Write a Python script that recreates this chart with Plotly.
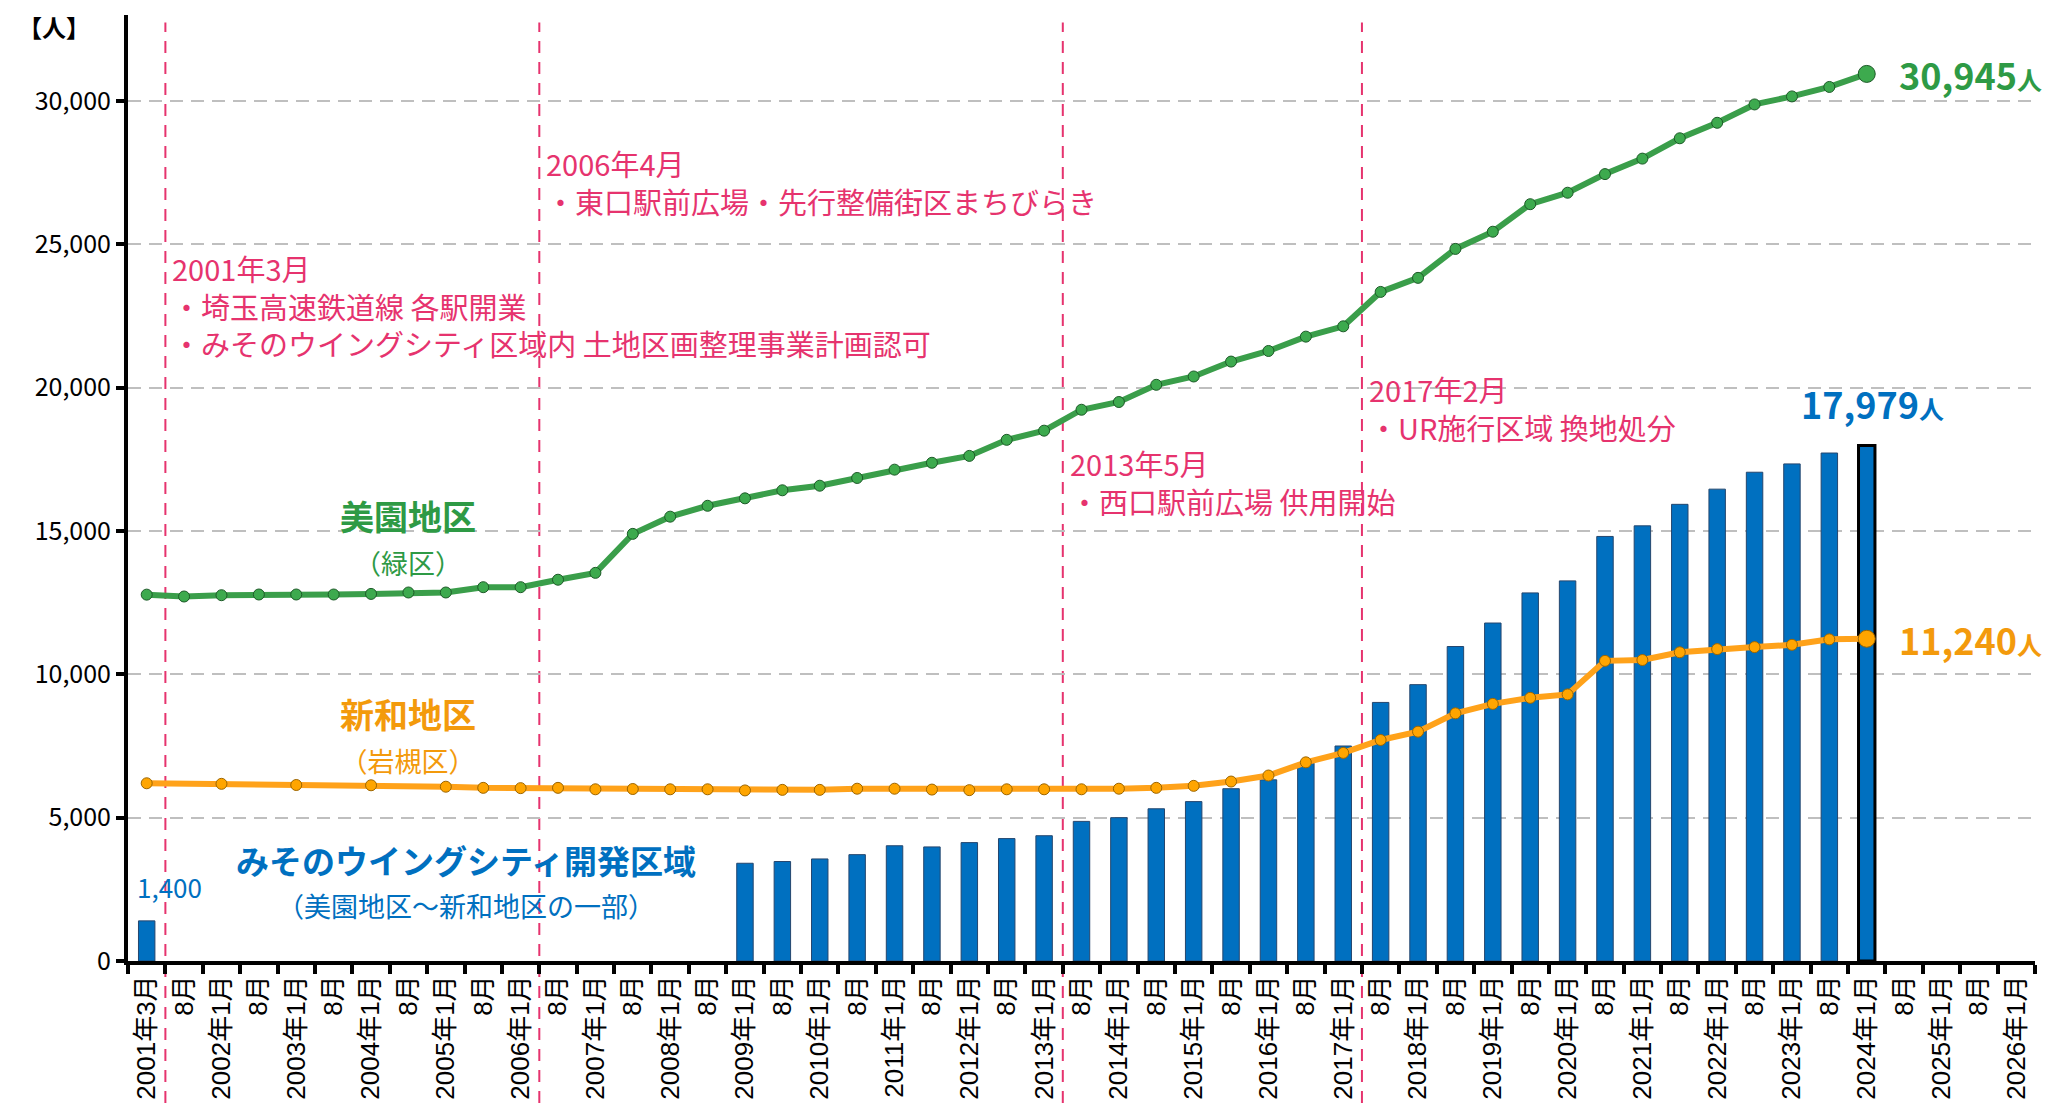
import plotly.graph_objects as go

# ---------------- data ----------------
periods = [
    "2001年3月", "2001年8月", "2002年1月", "2002年8月", "2003年1月", "2003年8月",
    "2004年1月", "2004年8月", "2005年1月", "2005年8月", "2006年1月", "2006年8月",
    "2007年1月", "2007年8月", "2008年1月", "2008年8月", "2009年1月", "2009年8月",
    "2010年1月", "2010年8月", "2011年1月", "2011年8月", "2012年1月", "2012年8月",
    "2013年1月", "2013年8月", "2014年1月", "2014年8月", "2015年1月", "2015年8月",
    "2016年1月", "2016年8月", "2017年1月", "2017年8月", "2018年1月", "2018年8月",
    "2019年1月", "2019年8月", "2020年1月", "2020年8月", "2021年1月", "2021年8月",
    "2022年1月", "2022年8月", "2023年1月", "2023年8月", "2024年1月", "2024年8月",
    "2025年1月", "2025年8月", "2026年1月",
]
tick_labels = [
    "2001年3月", "8月", "2002年1月", "8月", "2003年1月", "8月",
    "2004年1月", "8月", "2005年1月", "8月", "2006年1月", "8月",
    "2007年1月", "8月", "2008年1月", "8月", "2009年1月", "8月",
    "2010年1月", "8月", "2011年1月", "8月", "2012年1月", "8月",
    "2013年1月", "8月", "2014年1月", "8月", "2015年1月", "8月",
    "2016年1月", "8月", "2017年1月", "8月", "2018年1月", "8月",
    "2019年1月", "8月", "2020年1月", "8月", "2021年1月", "8月",
    "2022年1月", "8月", "2023年1月", "8月", "2024年1月", "8月",
    "2025年1月", "8月", "2026年1月",
]

# 美園地区（緑区） population, 2001年3月 .. 2024年1月
misono = [
    12780, 12715, 12760, 12785, 12785, 12785, 12805, 12855, 12855, 13040,
    13040, 13300, 13540, 14900, 15500, 15880, 16140, 16420, 16580, 16850,
    17140, 17380, 17620, 18180, 18500, 19230, 19500, 20100, 20390, 20910,
    21280, 21780, 22140, 23340, 23830, 24840, 25440, 26400, 26800, 27450,
    27990, 28700, 29240, 29880, 30160, 30490, 30945,
]
# 新和地区（岩槻区） population (None = no survey)
shinwa = [
    6200, None, 6180, None, 6140, None, 6130, None, 6080, 6040,
    6030, 6040, 5990, 6000, 5990, 5990, 5950, 5970, 5970, 6010,
    6010, 5980, 5960, 5990, 5990, 5990, 6010, 6040, 6110, 6260,
    6470, 6930, 7260, 7710, 8000, 8640, 8970, 9180, 9300, 10470,
    10500, 10770, 10880, 10950, 11030, 11220, 11240,
]
# みそのウイングシティ開発区域 population (bars)
wing_city = [
    1400, None, None, None, None, None, None, None, None, None,
    None, None, None, None, None, None, 3410, 3470, 3560, 3710,
    4020, 3980, 4130, 4270, 4370, 4870, 5000, 5310, 5560, 6010,
    6320, 6900, 7500, 9020, 9640, 10970, 11790, 12840, 13260, 14810,
    15180, 15930, 16460, 17050, 17340, 17720, 17979,
]

events = [
    (0.5, 22850, "2001年3月<br>・埼玉高速鉄道線 各駅開業<br>・みそのウイングシティ区域内 土地区画整理事業計画認可"),
    (10.5, 27170, "2006年4月<br>・東口駅前広場・先行整備街区まちびらき"),
    (24.5, 16700, "2013年5月<br>・西口駅前広場 供用開始"),
    (32.5, 19300, "2017年2月<br>・UR施行区域 換地処分"),
]

# ---------------- styles ----------------
CJK = "Noto Sans CJK JP"
GREEN_LINE = "#3A9E4A"
GREEN_TXT = "#2E9A45"
ORANGE_LINE = "#FFA21A"
ORANGE_TXT = "#F39A0C"
BLUE = "#0070C0"
PINK = "#E6336E"

fig = go.Figure()

n_bar = len(wing_city)
bar_line_w = [1] * (n_bar - 1) + [3]
bar_line_c = ["#24466E"] * (n_bar - 1) + ["#000000"]
fig.add_trace(go.Bar(
    x=periods[:n_bar], y=wing_city, width=0.44,
    marker=dict(color=BLUE, line=dict(color=bar_line_c, width=bar_line_w)),
    hoverinfo="x+y", showlegend=False,
))

n_sh = len(shinwa)
fig.add_trace(go.Scatter(
    x=periods[:n_sh], y=shinwa, mode="lines+markers", connectgaps=True,
    line=dict(color=ORANGE_LINE, width=6),
    marker=dict(color="#FFA500", size=[11] * (n_sh - 1) + [17], opacity=1,
                line=dict(color="#9C6500", width=1)),
    showlegend=False,
))

n_mi = len(misono)
fig.add_trace(go.Scatter(
    x=periods[:n_mi], y=misono, mode="lines+markers",
    line=dict(color=GREEN_LINE, width=6),
    marker=dict(color="#3DAA4E", size=[11] * (n_mi - 1) + [17], opacity=1,
                line=dict(color="#1D5A28", width=1)),
    showlegend=False,
))

shapes = []
for xv, _, _ in events:
    shapes.append(dict(
        type="line", xref="x", yref="paper", x0=xv, x1=xv, y0=-0.15, y1=0.992,
        line=dict(color=PINK, width=2, dash="12px,9px"), layer="below",
    ))

annotations = []
for xv, yv, txt in events:
    annotations.append(dict(
        x=xv, y=yv, xref="x", yref="y", text=txt, showarrow=False,
        xanchor="left", yanchor="middle", align="left", xshift=5,
        font=dict(family=CJK, size=29, color=PINK),
    ))

def label(x, y, text, size, color, **kw):
    d = dict(x=x, y=y, xref="x", yref="y", text=text, showarrow=False,
             font=dict(family=CJK, size=size, color=color))
    d.update(kw)
    annotations.append(d)

label(7.0, 14800, "<b>美園地区</b><br><span style='font-size:27px'>（緑区）</span>",
      34, GREEN_TXT)
label(7.0, 7900, "<b>新和地区</b><br><span style='font-size:27px'>（岩槻区）</span>",
      34, ORANGE_TXT)
label(8.55, 2800,
      "<b>みそのウイングシティ開発区域</b><br><span style='font-size:27px'>（美園地区～新和地区の一部）</span>",
      33, BLUE)
label(0.6, 2583, "1,400", 26, BLUE)

last = n_mi - 1
label(last, misono[-1],
      f"<b>{misono[-1]:,}</b><span style='font-size:25px'><b>人</b></span>", 36, GREEN_TXT,
      xanchor="left", xshift=30)
label(last, shinwa[-1],
      f"<b>{shinwa[-1]:,}</b><span style='font-size:25px'><b>人</b></span>", 36, ORANGE_TXT,
      xanchor="left", xshift=30)
label(last + 0.15, 19470,
      f"<b>{wing_city[-1]:,}</b><span style='font-size:25px'><b>人</b></span>", 36, BLUE)

annotations.append(dict(
    x=-0.039, y=0.988, xref="paper", yref="paper", text="<b>【人】</b>",
    showarrow=False, xanchor="center", yanchor="middle",
    font=dict(family=CJK, size=24, color="#000000"),
))

fig.update_layout(
    width=2065, height=1103,
    margin=dict(l=128, r=30, t=15, b=142),
    plot_bgcolor="white", paper_bgcolor="white",
    shapes=shapes, annotations=annotations,
    bargap=0.5,
    xaxis=dict(
        type="category", categoryorder="array", categoryarray=periods,
        tickmode="array", tickvals=periods, ticktext=tick_labels,
        tickson="boundaries", range=[-0.5, len(periods) - 0.5],
        tickangle=-90, ticks="outside", ticklen=9, tickwidth=4, tickcolor="black",
        showline=True, linewidth=4, linecolor="black", showgrid=False,
        tickfont=dict(family="Liberation Sans, Arial, " + CJK, size=26, color="black"),
        zeroline=False, automargin=False,
    ),
    yaxis=dict(
        range=[0, 33000], tickmode="array",
        tickvals=[0, 5000, 10000, 15000, 20000, 25000, 30000],
        ticktext=["0", "5,000", "10,000", "15,000", "20,000", "25,000", "30,000"],
        ticks="outside", ticklen=8, tickwidth=4, tickcolor="black",
        showline=True, linewidth=4, linecolor="black",
        showgrid=True, gridcolor="#BFBFBF", gridwidth=2, griddash="13px,8px",
        zeroline=False, automargin=False,
        tickfont=dict(family=CJK, size=25, color="black"),
    ),
)

fig.write_html(
    "out.html",
    config={"displayModeBar": False},
    post_script="document.body.style.margin='0';document.body.style.overflow='hidden';",
)
